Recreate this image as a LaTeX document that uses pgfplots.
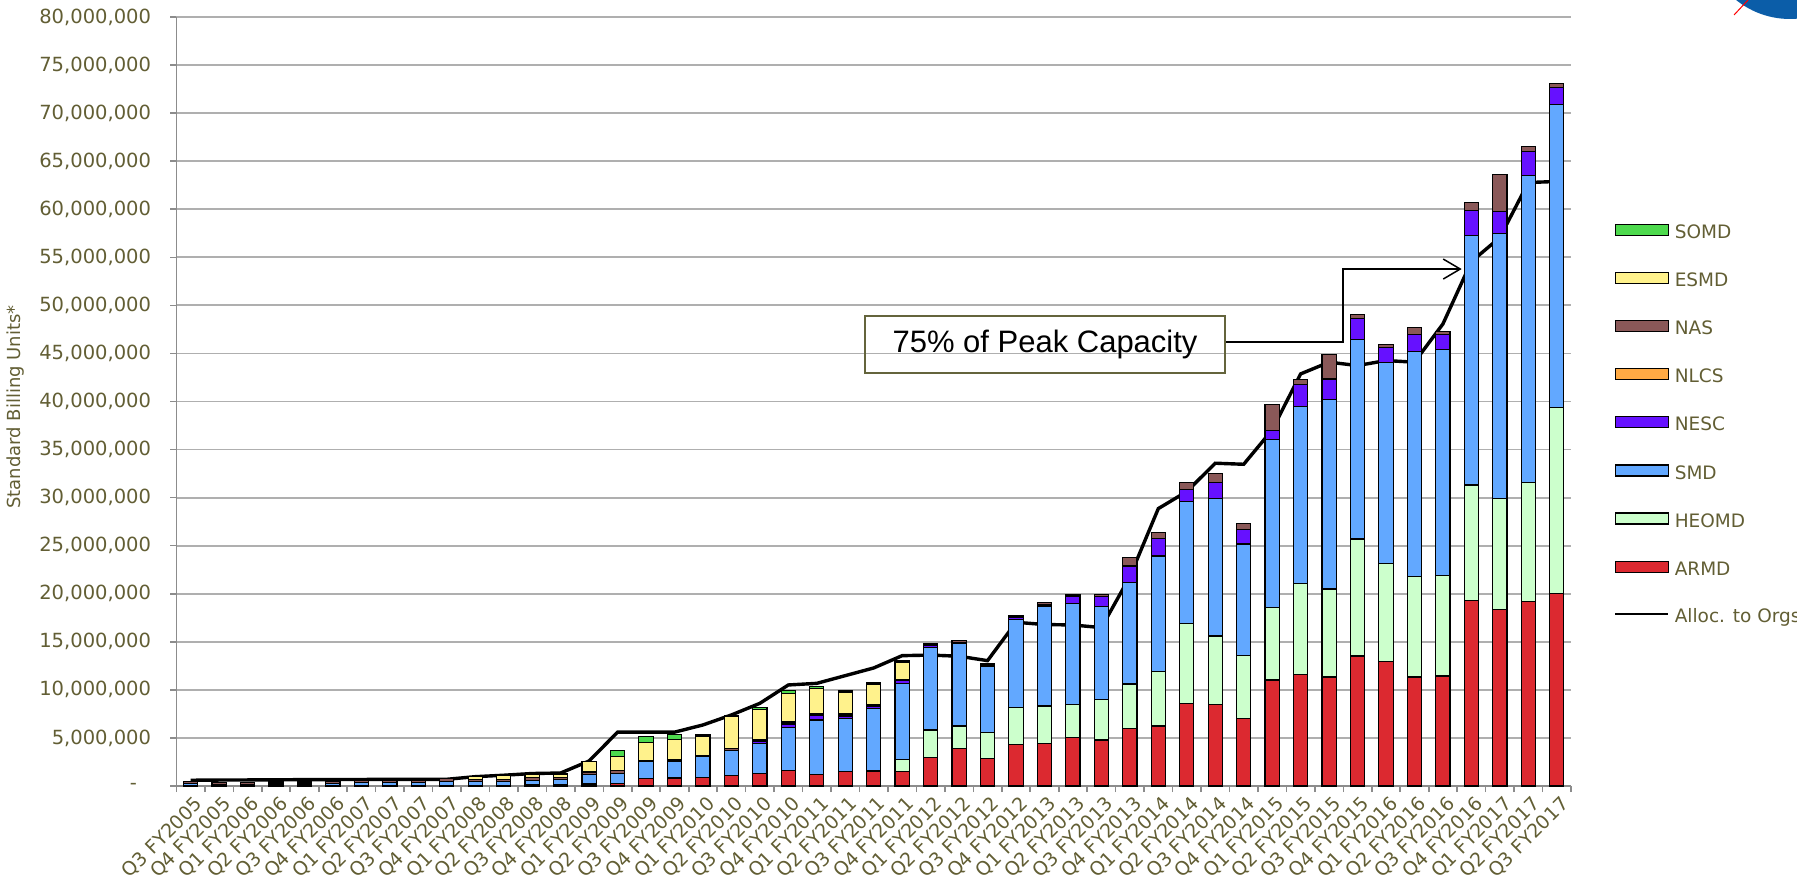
\documentclass[border=0pt]{standalone}
\usepackage{pgfplots}
\pgfplotsset{compat=1.18}
\usepackage{pgfplotstable}
\usepackage{fontspec}
\setmainfont{DejaVu Sans}
\newfontfamily\arialfont{Liberation Sans}
\usetikzlibrary{arrows.meta}
\definecolor{somdc}{RGB}{77,217,77}
\definecolor{esmdc}{RGB}{255,242,140}
\definecolor{nasc}{RGB}{138,88,88}
\definecolor{nlcsc}{RGB}{255,170,68}
\definecolor{nescc}{RGB}{102,17,255}
\definecolor{smdc}{RGB}{98,168,255}
\definecolor{heomdc}{RGB}{204,255,204}
\definecolor{armdc}{RGB}{220,41,48}
\definecolor{olivetxt}{RGB}{98,94,52}
\definecolor{gridgray}{RGB}{175,175,175}
\definecolor{axisgray}{RGB}{140,140,140}
\definecolor{boxolive}{RGB}{100,100,60}
\definecolor{nasablue}{RGB}{11,93,168}
\pgfplotsset{legpatch/.style={legend image code/.code={\draw[fill=#1,draw=black,line width=0.6pt] (0pt,-0.95pt) rectangle (26.5pt,4.55pt);}}}
\pgfplotstableread{
x armd heomd smd nesc nlcs nas esmd somd alloc
0 0 0 0.30 0 0 0.15 0 0 0.60
1 0 0 0.15 0 0 0.20 0 0 0.62
2 0 0 0.15 0 0 0.20 0 0 0.63
3 0 0 0.20 0 0 0.15 0.10 0.05 0.65
4 0 0 0.20 0 0 0.15 0.10 0.05 0.66
5 0 0 0.25 0 0 0.25 0 0 0.67
6 0 0 0.35 0 0 0.20 0 0 0.68
7 0 0 0.40 0 0 0.20 0 0 0.69
8 0 0 0.40 0 0 0.20 0 0 0.69
9 0 0 0.45 0 0 0.35 0 0 0.70
10 0 0 0.45 0 0 0.20 0.30 0 0.97
11 0 0 0.50 0 0 0.20 0.40 0 1.12
12 0.15 0 0.45 0 0 0.25 0.40 0 1.30
13 0.15 0 0.50 0 0 0.20 0.40 0 1.35
14 0.21 0 1.00 0 0 0.25 1.07 0 2.60
15 0.28 0 1.04 0 0 0.28 1.45 0.63 5.60
16 0.80 0 1.73 0 0 0.08 1.93 0.59 5.60
17 0.83 0 1.74 0 0 0.14 2.15 0.52 5.60
18 0.87 0 2.18 0 0 0.11 2.04 0.18 6.35
19 1.08 0 2.60 0 0 0.24 3.29 0.11 7.39
20 1.32 0 3.12 0.25 0 0.17 3.12 0.21 8.60
21 1.60 0 4.47 0.38 0 0.21 2.98 0.28 10.51
22 1.21 0 5.66 0.45 0 0.17 2.64 0.21 10.68
23 1.49 0 5.52 0.27 0 0.21 2.29 0.14 11.48
24 1.56 0 6.49 0.21 0 0.17 2.18 0.14 12.28
25 1.49 1.28 7.91 0.28 0 0.14 1.73 0.18 13.56
26 2.98 2.85 8.60 0.24 0 0.18 0 0 13.62
27 3.92 2.32 8.61 0.10 0 0.17 0 0 13.50
28 2.88 2.67 6.94 0.10 0 0.17 0 0 13.04
29 4.34 3.85 9.15 0.15 0 0.20 0 0 17.03
30 4.44 3.88 10.41 0.15 0 0.20 0 0 16.80
31 5.06 3.44 10.51 0.69 0 0.17 0 0 16.75
32 4.79 4.23 9.64 1.04 0 0.21 0 0 16.48
33 5.97 4.64 10.55 1.73 0 0.90 0 0 21.78
34 6.24 5.69 12.00 1.81 0 0.62 0 0 28.86
35 8.60 8.33 12.66 1.28 0 0.69 0 0 30.63
36 8.50 7.11 14.32 1.67 0 0.94 0 0 33.58
37 7.01 6.55 11.62 1.53 0 0.62 0 0 33.47
38 11.03 7.53 17.51 0.91 0 2.74 0 0 37.04
39 11.62 9.43 18.42 2.26 0 0.52 0 0 42.87
40 11.34 9.16 19.67 2.18 0 2.57 0 0 44.09
41 13.53 12.17 20.71 2.19 0 0.41 0 0 43.74
42 12.94 10.23 20.88 1.60 0 0.31 0 0 44.26
43 11.34 10.48 23.38 1.73 0 0.76 0 0 44.09
44 11.45 10.44 23.55 1.56 0 0.28 0 0 48.07
45 19.29 12.03 25.91 2.60 0 0.87 0 0 54.56
46 18.38 11.55 27.58 2.22 0 3.92 0 0 57.06
47 19.22 12.38 31.94 2.47 0 0.52 0 0 62.78
48 20.05 19.35 31.46 1.84 0 0.35 0 0 62.89
}\datatable
\begin{document}
\begin{tikzpicture}
\begin{axis}[
  scale only axis, width=697.3pt, height=384.5pt,
  xmin=-0.5, xmax=48.5, ymin=0, ymax=80,
  ybar stacked, bar width=0.5,
  axis x line*=bottom, axis y line*=left,
  axis line style={draw=axisgray, line width=0.8pt},
  ymajorgrids, grid style={draw=gridgray, line width=0.9pt},
  ytick={0,5,...,80},
  yticklabels={{-\hspace*{7pt}},{5,000,000},{10,000,000},{15,000,000},{20,000,000},{25,000,000},{30,000,000},{35,000,000},{40,000,000},{45,000,000},{50,000,000},{55,000,000},{60,000,000},{65,000,000},{70,000,000},{75,000,000},{80,000,000}},
  xtick={0,...,48},
  xticklabels={Q3 FY2005,Q4 FY2005,
    Q1 FY2006,Q2 FY2006,Q3 FY2006,Q4 FY2006,
    Q1 FY2007,Q2 FY2007,Q3 FY2007,Q4 FY2007,
    Q1 FY2008,Q2 FY2008,Q3 FY2008,Q4 FY2008,
    Q1 FY2009,Q2 FY2009,Q3 FY2009,Q4 FY2009,
    Q1 FY2010,Q2 FY2010,Q3 FY2010,Q4 FY2010,
    Q1 FY2011,Q2 FY2011,Q3 FY2011,Q4 FY2011,
    Q1 FY2012,Q2 FY2012,Q3 FY2012,Q4 FY2012,
    Q1 FY2013,Q2 FY2013,Q3 FY2013,Q4 FY2013,
    Q1 FY2014,Q2 FY2014,Q3 FY2014,Q4 FY2014,
    Q1 FY2015,Q2 FY2015,Q3 FY2015,Q4 FY2015,
    Q1 FY2016,Q2 FY2016,Q3 FY2016,Q4 FY2016,
    Q1 FY2017,Q2 FY2017,Q3 FY2017},
  minor xtick={-0.5,0.5,...,48.5},
  tick align=outside,
  major tick length=3pt, minor tick length=3pt,
  major x tick style={draw=none},
  minor x tick style={draw=axisgray, line width=0.8pt},
  y tick style={draw=axisgray, line width=0.8pt},
  xticklabel style={rotate=45, anchor=north east, inner sep=0pt, yshift=-2pt, font=\fontsize{9.5}{11}\selectfont, text=olivetxt},
  yticklabel style={anchor=east, inner sep=0pt, xshift=-9.5pt, font=\fontsize{9.75}{11}\selectfont, text=olivetxt},
  ylabel={Standard Billing Units*},
  ylabel style={at={(axis description cs:-0.1155,0.4928)}, anchor=center, font=\fontsize{9}{11}\selectfont, text=olivetxt},
  legend cell align=left,
  legend style={draw=none, fill=none, at={(1.0308,0.731)}, anchor=north west, inner sep=0pt, outer sep=0pt, row sep=14.7pt,
    nodes={inner sep=0pt, text height=7pt, text depth=2pt, font=\fontsize{9.25}{11}\selectfont, text=olivetxt},
    /tikz/every odd column/.append style={column sep=2.5pt}},
  clip=false,
]
\addplot[fill=armdc, draw=black, line width=0.6pt, forget plot] table[x=x,y=armd]{\datatable};
\addplot[fill=heomdc, draw=black, line width=0.6pt, forget plot] table[x=x,y=heomd]{\datatable};
\addplot[fill=smdc, draw=black, line width=0.6pt, forget plot] table[x=x,y=smd]{\datatable};
\addplot[fill=nescc, draw=black, line width=0.6pt, forget plot] table[x=x,y=nesc]{\datatable};
\addplot[fill=nlcsc, draw=black, line width=0.6pt, forget plot] table[x=x,y=nlcs]{\datatable};
\addplot[fill=nasc, draw=black, line width=0.6pt, forget plot] table[x=x,y=nas]{\datatable};
\addplot[fill=esmdc, draw=black, line width=0.6pt, forget plot] table[x=x,y=esmd]{\datatable};
\addplot[fill=somdc, draw=black, line width=0.6pt, forget plot] table[x=x,y=somd]{\datatable};
\addplot[sharp plot, stack plots=false, draw=black, line width=1.7pt, forget plot] table[x=x,y=alloc]{\datatable};
\addlegendimage{legpatch=somdc}\addlegendentry{SOMD}
\addlegendimage{legpatch=esmdc}\addlegendentry{ESMD}
\addlegendimage{legpatch=nasc}\addlegendentry{NAS}
\addlegendimage{legpatch=nlcsc}\addlegendentry{NLCS}
\addlegendimage{legpatch=nescc}\addlegendentry{NESC}
\addlegendimage{legpatch=smdc}\addlegendentry{SMD}
\addlegendimage{legpatch=heomdc}\addlegendentry{HEOMD}
\addlegendimage{legpatch=armdc}\addlegendentry{ARMD}
\addlegendimage{legend image code/.code={\draw[black,line width=1.4pt] (0pt,1.8pt) -- (26.5pt,1.8pt);}}\addlegendentry{Alloc. to Orgs}
\node[draw=boxolive, line width=0.8pt, minimum width=180pt, minimum height=28.5pt, inner sep=0pt, font=\arialfont\fontsize{15.5}{18}\selectfont] at (axis cs:30.02,45.93) {75\% of Peak Capacity};
\draw[black, line width=0.75pt, -{Straight Barb[length=8.5pt,width=10pt]}] (axis cs:36.34,46.19) -- (axis cs:40.49,46.19) -- (axis cs:40.49,53.78) -- (axis cs:44.66,53.78);
\end{axis}
\fill[nasablue] (806.8pt,426.5pt) circle (43pt);
\draw[red, line width=0.5pt] (778.8pt,385.5pt) -- (785.8pt,393pt);
\pgfresetboundingbox
\useasboundingbox (-88.2pt,-46pt) rectangle (810.3pt,393pt);
\end{tikzpicture}
\end{document}
